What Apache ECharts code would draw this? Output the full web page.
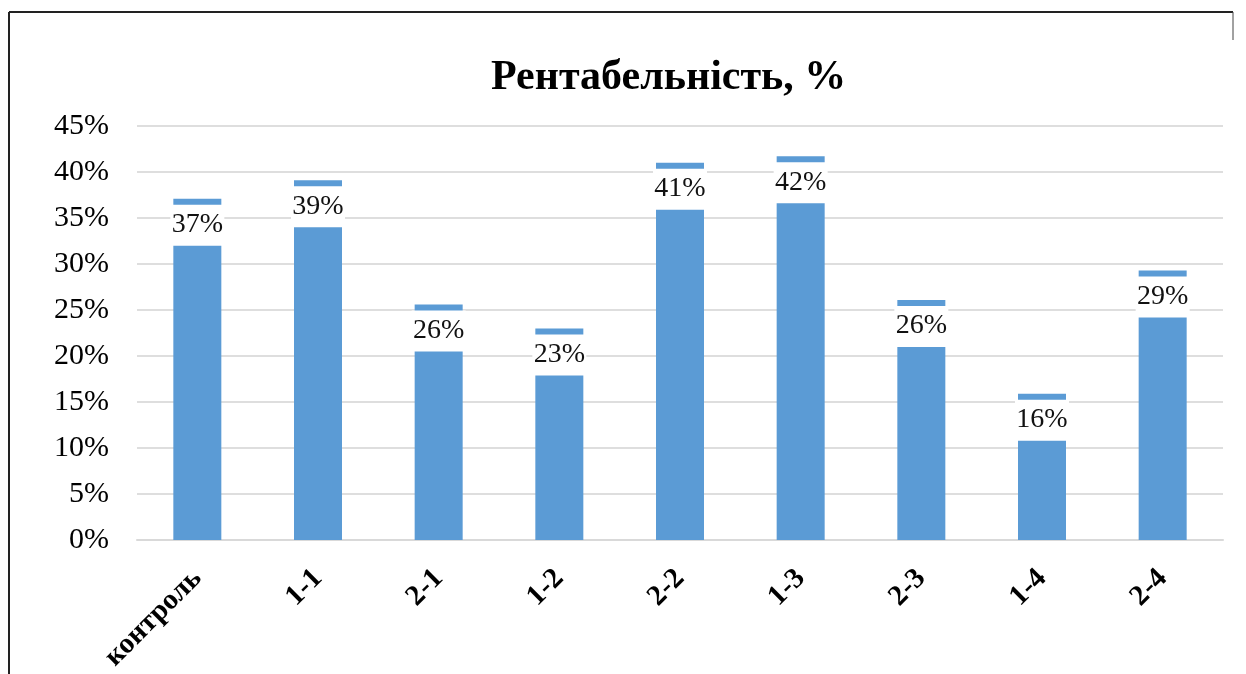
<!DOCTYPE html>
<html>
<head>
<meta charset="utf-8">
<script src="https://cdn.jsdelivr.net/npm/echarts@6/dist/echarts.min.js"></script>
<style>
  html, body { margin: 0; padding: 0; background: #fff; }
  #chart { width: 1246px; height: 674px; }
</style>
</head>
<body>
<div id="chart"></div>
<script>
// дані
const categories = ['контроль', '1-1', '2-1', '1-2', '2-2', '1-3', '2-3', '1-4', '2-4']
const profitability = [0.371, 0.391, 0.256, 0.23, 0.41, 0.417, 0.261, 0.159, 0.293]
const yTicks = { min: 0, max: 0.45, interval: 0.05 }

const serif = '"Liberation Serif", "DejaVu Serif", serif'
const chart = echarts.init(document.getElementById('chart'))

const option = {
  backgroundColor: '#fff',
  animation: false,
  title: {
    text: 'Рентабельність, %',
    left: 486,
    top: 52,
    textStyle: { fontFamily: serif, fontSize: 42, fontWeight: 'bold', color: '#000' }
  },
  grid: { left: 137, right: 23, top: 126, bottom: 134, outerBoundsMode: 'none' },
  xAxis: {
    type: 'category',
    data: categories,
    axisTick: { show: false },
    axisLine: { lineStyle: { color: '#d9d9d9', width: 2 } },
    axisLabel: {
      rotate: 45,
      margin: 34,
      interval: 0,
      fontFamily: serif,
      fontSize: 29,
      fontWeight: 'bold',
      color: '#000'
    }
  },
  yAxis: {
    type: 'value',
    min: yTicks.min,
    max: yTicks.max,
    interval: yTicks.interval,
    axisLine: { show: false },
    axisTick: { show: false },
    splitLine: { lineStyle: { color: '#dedede', width: 2 } },
    axisLabel: {
      margin: 28,
      fontFamily: serif,
      fontSize: 30,
      color: '#000',
      formatter: v => Math.round(v * 100) + '%'
    }
  },
  series: [
    {
      type: 'bar',
      data: profitability,
      barWidth: 48,
      itemStyle: { color: '#5B9BD5' },
      label: {
        show: true,
        position: 'insideTop',
        distance: 6,
        formatter: p => Math.round(p.value * 100) + '%',
        fontFamily: serif,
        fontSize: 28,
        color: '#111',
        backgroundColor: '#fff',
        width: 54,
        align: 'center',
        lineHeight: 28,
        padding: [6, 0, 7, 0]
      }
    }
  ],
  graphic: [
    { type: 'line', shape: { x1: 9, y1: 12, x2: 1233, y2: 12 }, style: { stroke: '#222', lineWidth: 2 } },
    { type: 'line', shape: { x1: 9, y1: 12, x2: 9, y2: 674 }, style: { stroke: '#222', lineWidth: 2 } },
    { type: 'line', shape: { x1: 1233, y1: 12, x2: 1233, y2: 40 }, style: { stroke: '#444', lineWidth: 1 } }
  ]
}

option && chart.setOption(option)
</script>
</body>
</html>
